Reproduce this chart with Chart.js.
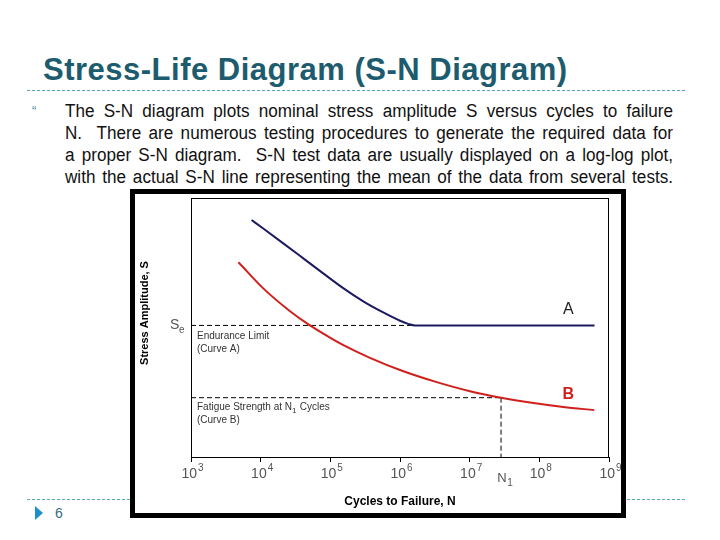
<!DOCTYPE html>
<html>
<head>
<meta charset="utf-8">
<script src="https://cdn.jsdelivr.net/npm/chart.js@4.4.1/dist/chart.umd.min.js"></script>
<style>
  body { margin: 0; width: 720px; height: 540px; background: #fff; position: relative; overflow: hidden;
         font-family: "Liberation Sans", Arial, sans-serif; }
  .title { position: absolute; left: 43px; top: 53px; font-size: 31px; font-weight: bold; color: #1d5b6e;
           line-height: 34px; white-space: nowrap; letter-spacing: 0.5px; }
  .rule { position: absolute; left: 27px; width: 658px; border-top: 1px dashed #5aa7b8; }
  .bullet { position: absolute; left: 32px; top: 103px; font-size: 13px; color: #4a8fa0; }
  .para { position: absolute; left: 65px; top: 100px; width: 640px; font-size: 18px; line-height: 22px; color: #111;
          transform: scaleX(0.95); transform-origin: 0 0; }
  .para div { text-align: justify; text-align-last: justify; }
  .num { position: absolute; left: 55px; top: 505px; font-size: 14px; color: #3a6a80; }
  .tri { position: absolute; left: 35px; top: 506px; width: 0; height: 0;
         border-top: 7px solid transparent; border-bottom: 7px solid transparent; border-left: 8px solid #1f8fc8; }
  .frame { position: absolute; left: 130px; top: 189px; width: 486px; height: 319px; border: 5px solid #000; background: #fff; }
  canvas { display: block; }
</style>
</head>
<body>
<div class="title">Stress-Life Diagram (S-N Diagram)</div>
<div class="rule" style="top:90px"></div>
<div class="bullet">&#8220;</div>
<div class="para">
  <div>The S-N diagram plots nominal stress amplitude S versus cycles to failure</div>
  <div>N.&nbsp; There are numerous testing procedures to generate the required data for</div>
  <div>a proper S-N diagram.&nbsp; S-N test data are usually displayed on a log-log plot,</div>
  <div>with the actual S-N line representing the mean of the data from several tests.</div>
</div>
<div class="rule" style="top:499px"></div>
<div class="tri"></div>
<div class="num">6</div>
<div class="frame"><canvas id="snChart" width="486" height="319"></canvas></div>

<script>
// Curve A (has an endurance limit) - cycles and stress amplitude (arbitrary units 0-100)
const cyclesA = [7.4e3, 1.09e4, 2.11e4, 4.09e4, 7.9e4, 1.53e5, 2.97e5, 5.75e5, 1.0e6, 1.31e6, 1.64e6, 6.2e8];
const stressA = [91.5, 88.2, 82.5, 76.7, 70.9, 65.2, 60.1, 55.8, 52.6, 51.4, 50.8, 50.8];

// Curve B (no endurance limit)
const cyclesB = [4.8e3, 1.09e4, 2.64e4, 5.1e4, 9.6e4, 1.54e5, 3.7e5, 1.12e6, 3.37e6, 1.01e7, 2.82e7, 7.35e7, 2.21e8, 6.15e8];
const stressB = [75.2, 65.1, 56.3, 50.8, 46.3, 43.2, 38.3, 33.1, 28.9, 25.4, 22.9, 21.0, 19.3, 18.1];

// dashed guide lines
const enduranceN = [1e3, 1.64e6];
const enduranceS = [50.8, 50.8];
const fatigueN = [1e3, 2.82e7];
const fatigueS = [22.9, 22.9];
const n1LineN = [2.82e7, 2.82e7];
const n1LineS = [22.9, 0];

// x axis ticks: 10^3 ... 10^9
const decadeTicks = [1e3, 1e4, 1e5, 1e6, 1e7, 1e8, 1e9];
const tickExponents = ['3', '4', '5', '6', '7', '8', '9'];

const FONT = '"Liberation Sans", Arial, sans-serif';
const NAVY = '#1b1b5e';
const RED = '#d0201c';

function toPoints(xs, ys) {
    return xs.map((v, i) => ({ x: v, y: ys[i] }));
}

function dashed(xs, ys) {
    return {
        data: toPoints(xs, ys),
        borderColor: '#000',
        borderWidth: 1,
        borderDash: [5, 3],
        pointRadius: 0
    };
}

// draws the plot frame, tick labels and the annotation texts
const annotations = {
    id: 'annotations',
    afterDraw(chart) {
        const { ctx, chartArea: a, scales: { x, y } } = chart;
        const ySe = y.getPixelForValue(enduranceS[0]);
        const yFat = y.getPixelForValue(fatigueS[0]);
        const xN1 = x.getPixelForValue(n1LineN[0]);
        ctx.save();
        ctx.strokeStyle = '#000';
        ctx.lineWidth = 1;
        ctx.strokeRect(a.left + 0.5, a.top + 0.5, a.right - a.left - 1, a.bottom - a.top);

        // tick labels with superscript exponent
        ctx.fillStyle = '#555';
        ctx.textAlign = 'left';
        ctx.textBaseline = 'alphabetic';
        decadeTicks.forEach((v, i) => {
            const px = x.getPixelForValue(v);
            ctx.font = '14px ' + FONT;
            const w1 = ctx.measureText('10').width;
            ctx.font = '10px ' + FONT;
            const w2 = ctx.measureText(tickExponents[i]).width;
            const start = px - (w1 + w2) / 2 + 1;
            ctx.font = '14px ' + FONT;
            ctx.fillText('10', start, a.bottom + 21);
            ctx.font = '10px ' + FONT;
            ctx.fillText(tickExponents[i], start + w1 + 1, a.bottom + 14);
        });

        ctx.textBaseline = 'middle';

        // S_e
        ctx.fillStyle = '#555';
        ctx.font = '14px ' + FONT;
        ctx.fillText('S', a.left - 21, ySe);
        ctx.font = '10px ' + FONT;
        ctx.fillText('e', a.left - 12, ySe + 5);

        // notes
        ctx.fillStyle = '#333';
        ctx.font = '10px ' + FONT;
        ctx.fillText('Endurance Limit', a.left + 6, ySe + 11);
        ctx.fillText('(Curve A)', a.left + 6, ySe + 24);
        let t = 'Fatigue Strength at N';
        ctx.fillText(t, a.left + 6, yFat + 10);
        let w = ctx.measureText(t).width;
        ctx.font = '8px ' + FONT;
        ctx.fillText('1', a.left + 6 + w, yFat + 13);
        ctx.font = '10px ' + FONT;
        ctx.fillText(' Cycles', a.left + 6 + w + 5, yFat + 10);
        ctx.fillText('(Curve B)', a.left + 6, yFat + 23);

        // curve letters
        const xLetter = x.getPixelForValue(2.6e8);
        ctx.textAlign = 'center';
        ctx.fillStyle = '#222';
        ctx.font = '16px ' + FONT;
        ctx.fillText('A', xLetter, ySe - 16);
        ctx.fillStyle = RED;
        ctx.font = 'bold 16px ' + FONT;
        ctx.fillText('B', xLetter, yFat - 3);

        // N1 under the axis
        ctx.fillStyle = '#555';
        ctx.font = '13px ' + FONT;
        ctx.fillText('N', xN1 + 1, a.bottom + 21);
        ctx.font = '10px ' + FONT;
        ctx.fillText('1', xN1 + 9, a.bottom + 26);

        // axis titles
        ctx.fillStyle = '#000';
        ctx.font = 'bold 12px ' + FONT;
        ctx.fillText('Cycles to Failure, N', (a.left + a.right) / 2, 308);
        ctx.translate(10, 119);
        ctx.rotate(-Math.PI / 2);
        ctx.font = 'bold 11px ' + FONT;
        ctx.fillText('Stress Amplitude, S', 0, 0);
        ctx.restore();
    }
};

new Chart(document.getElementById('snChart'), {
    type: 'line',
    data: {
        datasets: [
            {
                data: toPoints(cyclesA, stressA),
                borderColor: NAVY,
                borderWidth: 2,
                pointRadius: 0,
                cubicInterpolationMode: 'monotone'
            },
            {
                data: toPoints(cyclesB, stressB),
                borderColor: RED,
                borderWidth: 2,
                pointRadius: 0,
                cubicInterpolationMode: 'monotone'
            },
            dashed(enduranceN, enduranceS),
            dashed(fatigueN, fatigueS),
            dashed(n1LineN, n1LineS)
        ]
    },
    options: {
        responsive: false,
        animation: false,
        layout: { padding: { left: 56, right: 12, top: 4, bottom: 0 } },
        plugins: { legend: { display: false }, tooltip: { enabled: false } },
        scales: {
            x: {
                type: 'logarithmic',
                min: 1e3,
                max: 1e9,
                afterBuildTicks: (s) => { s.ticks = decadeTicks.map(v => ({ value: v })); },
                afterFit: (s) => { s.height = 56; },
                border: { display: false },
                grid: { drawOnChartArea: false, drawTicks: true, tickLength: 5, color: '#000' },
                ticks: {
                    autoSkip: false,
                    maxRotation: 0,
                    callback: () => ''
                }
            },
            y: {
                display: false,
                min: 0,
                max: 100
            }
        }
    },
    plugins: [annotations]
});
</script>
</body>
</html>
